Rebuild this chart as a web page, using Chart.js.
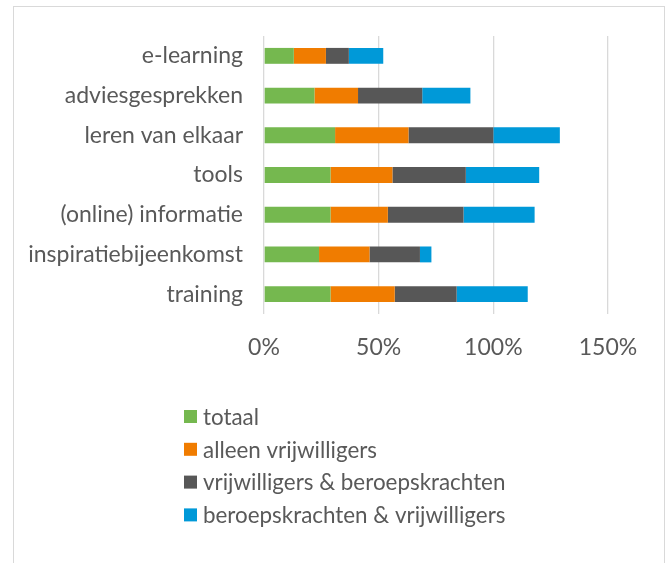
<!DOCTYPE html>
<html>
<head>
<meta charset="utf-8">
<script src="https://cdn.jsdelivr.net/npm/chart.js@4"></script>
<style>
  html, body { margin: 0; padding: 0; background: #fff; overflow: hidden; }
  #frame { position: absolute; left: 13px; top: 6px; width: 650px; height: 600px; border: 1px solid #d9d9d9; }
  #wrap { position: absolute; left: 0; top: 0; width: 668px; height: 563px; }
</style>
</head>
<body>
<div id="frame"></div>
<div id="wrap"><canvas id="myBarChart" width="668" height="563"></canvas></div>
<script>
// categories and series (percentages)
const categories = ['e-learning', 'adviesgesprekken', 'leren van elkaar', 'tools', '(online) informatie', 'inspiratiebijeenkomst', 'training'];
const totaal = [13, 22, 31, 29, 29, 24, 29];
const alleenVrijwilligers = [14, 19, 32, 27, 25, 22, 28];
const vrijwilligersBeroeps = [10, 28, 37, 32, 33, 22, 27];
const beroepsVrijwilligers = [15, 21, 29, 32, 31, 5, 31];
const seriesNames = ['totaal', 'alleen vrijwilligers', 'vrijwilligers & beroepskrachten', 'beroepskrachten & vrijwilligers'];
const xTicks = [0, 50, 100, 150];

const colors = ['#75b84f', '#f07c00', '#575757', '#0099d8'];
const textColor = '#595959';
const fontFamily = 'Lato, "Open Sans", sans-serif';

const data = {
    labels: categories,
    datasets: [totaal, alleenVrijwilligers, vrijwilligersBeroeps, beroepsVrijwilligers].map((values, i) => ({
        label: seriesNames[i],
        data: values,
        backgroundColor: colors[i],
        borderWidth: 0,
        categoryPercentage: 0.4,
        barPercentage: 1
    }))
};

// legend drawn as a vertical list under the plot, like the original
const listLegend = {
    id: 'listLegend',
    afterDraw(chart) {
        const ctx = chart.ctx;
        ctx.save();
        ctx.font = '22.4px ' + fontFamily;
        ctx.textBaseline = 'middle';
        ctx.textAlign = 'left';
        chart.data.datasets.forEach((ds, i) => {
            const cy = 416.5 + i * 32.8;
            ctx.fillStyle = ds.backgroundColor;
            ctx.fillRect(184, cy - 6.5, 13, 13);
            ctx.fillStyle = textColor;
            ctx.fillText(ds.label, 203, cy + 1);
        });
        ctx.restore();
    }
};

const config = {
    type: 'bar',
    data: data,
    options: {
        indexAxis: 'y',
        responsive: false,
        animation: false,
        layout: {
            padding: { top: 36, right: 60, bottom: 189, left: 0 }
        },
        scales: {
            x: {
                stacked: true,
                min: 0,
                max: 150,
                afterBuildTicks: scale => { scale.ticks = xTicks.map(v => ({ value: v })); },
                afterFit: scale => { scale.height = 60; },
                grid: { color: '#d9d9d9', lineWidth: 1.3, drawTicks: false },
                border: { display: false },
                ticks: {
                    padding: 20,
                    color: textColor,
                    font: { family: fontFamily, size: 23 },
                    callback: v => v + '%'
                }
            },
            y: {
                stacked: true,
                afterFit: scale => { scale.width = 264; },
                grid: { display: false, drawTicks: false },
                border: { display: false },
                ticks: {
                    padding: 21,
                    color: textColor,
                    font: { family: fontFamily, size: 23 }
                }
            }
        },
        plugins: {
            legend: { display: false },
            tooltip: { enabled: false }
        }
    },
    plugins: [listLegend]
};

const myBarChart = new Chart(document.getElementById('myBarChart'), config);
</script>
</body>
</html>
